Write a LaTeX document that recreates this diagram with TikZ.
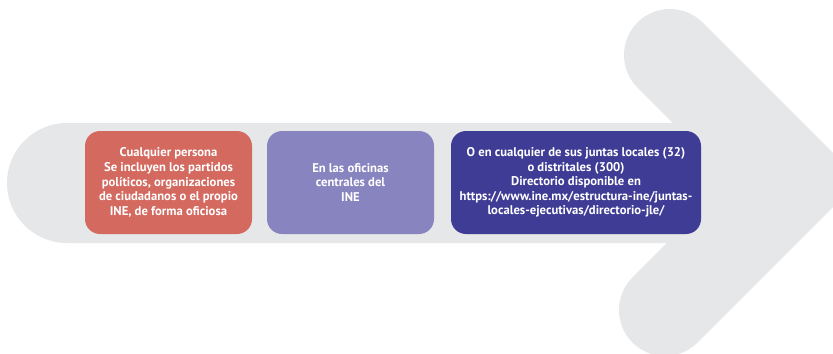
\documentclass[tikz,border=0pt]{standalone}
\usepackage{fontspec}
\setmainfont{PT Sans}
\definecolor{chevgray}{HTML}{E6E7E9}
\definecolor{redc}{HTML}{D4695F}
\definecolor{purc}{HTML}{8784BF}
\definecolor{darkc}{HTML}{3F3C96}
\tikzset{
  infobox/.style={rounded corners=15bp, text=white, align=center, inner sep=0pt,
    minimum height=103bp, font=\bfseries\fontsize{12.7}{14.7}\selectfont},
  graybar/.style={fill=chevgray, draw=none},
}
\begin{document}
\begin{tikzpicture}[x=1bp,y=-1bp]
\useasboundingbox (0,0) rectangle (833,353);
\clip (0,0) rectangle (833,353);
\fill[white] (0,0) rectangle (833,353);
% horizontal bar
\fill[graybar, rounded corners=60bp] (7,123) rectangle (760,243);
% chevron
\draw[chevgray, line width=92bp, line cap=round, line join=miter] (670,55) -- (795,180) -- (665,310);
% boxes
\node[infobox, fill=redc, minimum width=167bp] (a) at (168.5,182.5)
  {Cualquier persona\\Se incluyen los partidos\\políticos, organizaciones\\de ciudadanos o el propio\\INE, de forma oficiosa};
\node[infobox, fill=purc, minimum width=167bp] (b) at (350.5,182.5)
  {En las oficinas\\centrales del\\INE};
\node[infobox, fill=darkc, minimum width=250bp] (c) at (576,182.5)
  {O en cualquier de sus juntas locales (32)\\o distritales (300)\\Directorio disponible en\\https://www.ine.mx/estructura-ine/juntas-\\locales-ejecutivas/directorio-jle/};
\end{tikzpicture}
\end{document}
